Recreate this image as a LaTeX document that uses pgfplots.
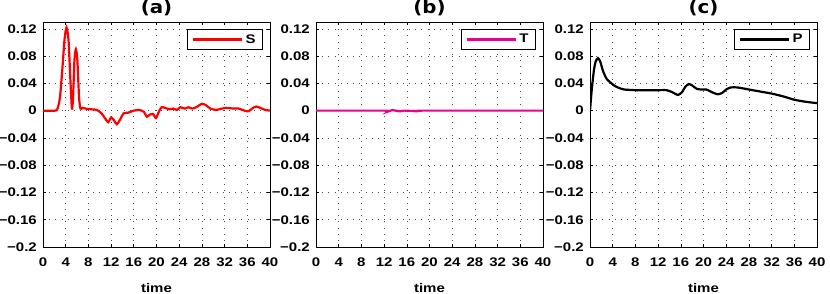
\documentclass[border=0pt]{standalone}
\usepackage{fontspec}
\setmainfont{Liberation Sans}
\newfontfamily\lbl[FakeStretch=1.2]{Liberation Sans}
\newfontfamily\ttl[FakeStretch=1.1]{DejaVu Sans}
\usepackage{pgfplots}
\pgfplotsset{compat=1.18}
\newcommand\lf{\lbl\bfseries\fontsize{12.5}{13}\selectfont}
\newcommand\tf{\ttl\bfseries\fontsize{18}{18}\selectfont}
\pgfplotsset{myax/.style={
  scale only axis, width=227pt, height=225pt,
  anchor=south west,
  xmin=0, xmax=40, ymin=-0.2, ymax=0.13,
  xtick={0,4,8,12,16,20,24,28,32,36,40},
  xticklabels={0,4,8,12,16,20,24,28,32,36,40},
  ytick={-0.2,-0.16,-0.12,-0.08,-0.04,0,0.04,0.08,0.12},
  yticklabels={−0.2,−0.16,−0.12,−0.08,−0.04,0,0.04,0.08,0.12},
  grid=major,
  major grid style={black!70, line width=0.6pt, dash pattern=on 0.7pt off 5.5pt},
  tick align=inside, tick pos=both, major tick length=3pt,
  axis line style={black, line width=0.8pt},
  tick style={black, line width=0.6pt},
  ticklabel style={font=\lf},
  xticklabel style={anchor=base, inner sep=0pt, yshift=-20pt},
  yticklabel style={anchor=east, inner sep=0pt, xshift=-6pt},
  xlabel={time},
  xlabel style={font=\lf, at={(axis description cs:0.5,0)}, anchor=base, inner sep=0pt, yshift=-46pt},
  title style={font=\tf, at={(axis description cs:0.5,1)}, anchor=south, inner sep=0pt, yshift=0pt},
  legend style={at={(0.969,0.969)}, anchor=north east, draw=black, line width=0.8pt,
    font=\lf, inner xsep=5pt, inner ysep=3pt, fill=white},
}}
\begin{document}
\begin{tikzpicture}
\useasboundingbox (0pt,0pt) rectangle (830pt,294pt);
\begin{axis}[myax, at={(43pt,47pt)}, title={(a)},
  legend image code/.code={\draw[red, line width=2.2pt] (0pt,0pt) -- (49pt,0pt);}]
\addplot[red, line width=2.2pt, smooth, tension=0.4] coordinates {
(0,0) (2.2,0) (2.6,0.004) (3.0,0.02) (3.4,0.06) (3.8,0.105) (4.15,0.122) (4.5,0.103)
(4.8,0.05) (5.05,0.008) (5.15,0.003) (5.3,0.02) (5.55,0.075) (5.8,0.09) (6.05,0.075)
(6.35,0.02) (6.6,0.003) (7.0,0.004) (7.5,0.003) (8.5,0.002) (9.5,0.001) (10.3,-0.004)
(11,-0.012) (11.5,-0.017) (12.0,-0.01) (12.5,-0.014) (13.0,-0.02) (13.6,-0.013)
(14.2,-0.004) (15,-0.003) (16,0) (17,0.001) (17.8,-0.002) (18.3,-0.009) (18.8,-0.006)
(19.4,-0.005) (19.9,-0.011) (20.4,-0.002) (20.9,0.005) (21.5,0.004) (22.3,0.002)
(23,0.003) (23.6,0.001) (24.2,0.005) (25,0.003) (25.6,0.005) (26.3,0.003) (27,0.005)
(28,0.01) (28.7,0.008) (29.5,0.003) (30.5,0.001) (31.5,0.003) (32.5,0.004) (33.5,0.003)
(34.5,0.003) (35.5,0) (36.2,-0.001) (37,0.004) (37.6,0.006) (38.3,0.004) (39.2,0.001) (40,0)
};
\addlegendentry{S}
\end{axis}
\begin{axis}[myax, at={(316pt,47pt)}, title={(b)},
  legend image code/.code={\draw[magenta, line width=2.2pt] (0pt,0pt) -- (49pt,0pt);}]
\addplot[magenta, line width=2.2pt, smooth, tension=0.4] coordinates {
(0,0) (12,0) (12.8,-0.001) (13.5,0.001) (14,0) (14.8,-0.001) (15.5,0) (17,-0.0005)
(18,-0.001) (19,0) (40,0)
};
\addlegendentry{T}
\end{axis}
\begin{axis}[myax, at={(590pt,47pt)}, title={(c)},
  legend image code/.code={\draw[black, line width=2.2pt] (0pt,0pt) -- (49pt,0pt);}]
\addplot[black, line width=2.2pt, smooth, tension=0.4] coordinates {
(0,0) (0.3,0.03) (0.7,0.06) (1.0,0.072) (1.4,0.077) (1.8,0.072) (2.3,0.058) (2.9,0.047)
(3.5,0.042) (4.4,0.036) (5.2,0.033) (6,0.031) (8,0.030) (10,0.030) (12,0.030) (13.5,0.030)
(14.5,0.027) (15.5,0.023) (16.2,0.027) (16.8,0.035) (17.4,0.039) (18,0.037) (18.8,0.032)
(19.6,0.031) (20.5,0.031) (21.5,0.027) (22.5,0.024) (23.3,0.026) (24,0.031) (24.8,0.034)
(26,0.034) (28,0.031) (30,0.028) (32,0.025) (34,0.021) (36,0.016) (38,0.013) (40,0.011)
};
\addlegendentry{P}
\end{axis}
\end{tikzpicture}
\end{document}
